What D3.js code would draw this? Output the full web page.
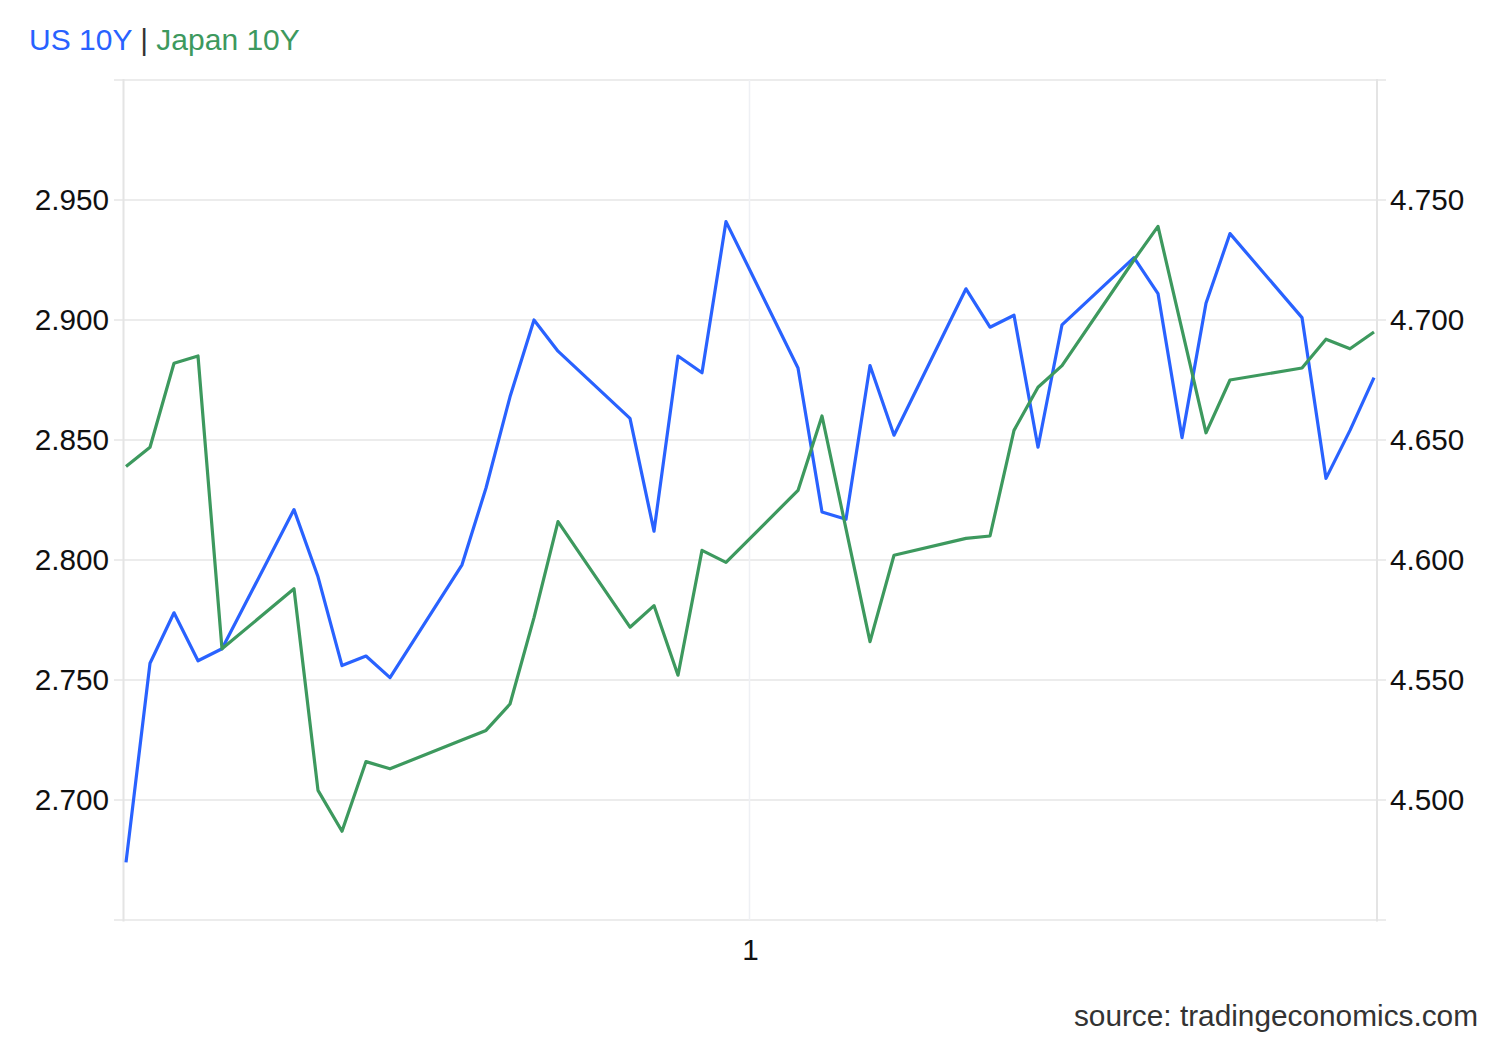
<!DOCTYPE html>
<html>
<head>
<meta charset="utf-8">
<script src="https://cdn.jsdelivr.net/npm/d3@7"></script>
<style>
  body { margin: 0; background: #fff; }
  svg { display: block; font-family: "Liberation Sans", Arial, sans-serif; }
</style>
</head>
<body>
<svg width="1500" height="1040"></svg>
<script>
// trading days (weekends skipped)
const dates = [
  "2025-02-03", "2025-02-04", "2025-02-05", "2025-02-06", "2025-02-07",
  "2025-02-10", "2025-02-11", "2025-02-12", "2025-02-13", "2025-02-14",
  "2025-02-17", "2025-02-18", "2025-02-19", "2025-02-20", "2025-02-21",
  "2025-02-24", "2025-02-25", "2025-02-26", "2025-02-27", "2025-02-28",
  "2025-03-03", "2025-03-04", "2025-03-05", "2025-03-06", "2025-03-07",
  "2025-03-10", "2025-03-11", "2025-03-12", "2025-03-13", "2025-03-14",
  "2025-03-17", "2025-03-18", "2025-03-19", "2025-03-20", "2025-03-21",
  "2025-03-24", "2025-03-25", "2025-03-26", "2025-03-27"
];

// right axis
const us10y = [
  4.474, 4.557, 4.578, 4.558, 4.563,
  4.621, 4.593, 4.556, 4.560, 4.551,
  4.598, 4.630, 4.668, 4.700, 4.687,
  4.659, 4.612, 4.685, 4.678, 4.741,
  4.680, 4.620, 4.617, 4.681, 4.652,
  4.713, 4.697, 4.702, 4.647, 4.698,
  4.726, 4.711, 4.651, 4.707, 4.736,
  4.701, 4.634, 4.654, 4.676
];

// left axis
const japan10y = [
  2.839, 2.847, 2.882, 2.885, 2.763,
  2.788, 2.704, 2.687, 2.716, 2.713,
  2.725, 2.729, 2.740, 2.776, 2.816,
  2.772, 2.781, 2.752, 2.804, 2.799,
  2.829, 2.860, 2.813, 2.766, 2.802,
  2.809, 2.810, 2.854, 2.872, 2.881,
  2.925, 2.939, 2.896, 2.853, 2.875,
  2.880, 2.892, 2.888, 2.895
];

const leftTicks = [2.70, 2.75, 2.80, 2.85, 2.90, 2.95];
const rightTicks = [4.50, 4.55, 4.60, 4.65, 4.70, 4.75];
const xTicks = ["2025-03-01"];

const parse = d3.utcParse("%Y-%m-%d");
const days = dates.map(parse);

const svg = d3.select("svg"),
      plotLeft = 123, plotRight = 1377, plotTop = 80, plotBottom = 920;

const pad = 3 * 3600 * 1000;
const x = d3.scaleUtc()
    .domain([+days[0] - pad, +days[days.length - 1] + pad])
    .range([plotLeft, plotRight]);
const yL = d3.scaleLinear().domain([2.65, 3.00]).range([plotBottom, plotTop]);
const yR = d3.scaleLinear().domain([4.45, 4.80]).range([plotBottom, plotTop]);

// horizontal grid, incl. top and bottom frame
svg.append("g")
  .selectAll("line")
  .data([2.65].concat(leftTicks, [3.00]))
  .join("line")
    .attr("x1", 114).attr("x2", 1386)
    .attr("y1", d => yL(d)).attr("y2", d => yL(d))
    .attr("stroke", "#e6e6e6")
    .attr("stroke-width", 1.5);

// vertical grid for the month tick
svg.append("g")
  .selectAll("line")
  .data(xTicks.map(parse))
  .join("line")
    .attr("x1", d => x(d) - 0.5).attr("x2", d => x(d) - 0.5)
    .attr("y1", plotTop).attr("y2", plotBottom)
    .attr("stroke", "#eef0f4")
    .attr("stroke-width", 1.5);

// side axis lines
svg.append("g")
  .selectAll("line")
  .data([plotLeft + 0.5, plotRight])
  .join("line")
    .attr("x1", d => d).attr("x2", d => d)
    .attr("y1", plotTop - 1).attr("y2", plotBottom + 1.5)
    .attr("stroke", "#e4e4e4")
    .attr("stroke-width", 2);

const fmt = d3.format(".3f");

const gL = svg.append("g")
    .attr("transform", `translate(${plotLeft},0)`)
    .call(d3.axisLeft(yL).tickValues(leftTicks).tickFormat(fmt).tickSize(0).tickPadding(14));
const gR = svg.append("g")
    .attr("transform", `translate(${plotRight},0)`)
    .call(d3.axisRight(yR).tickValues(rightTicks).tickFormat(fmt).tickSize(0).tickPadding(13));
const gX = svg.append("g")
    .attr("transform", `translate(0,${plotBottom})`)
    .call(d3.axisBottom(x).tickValues(xTicks.map(parse)).tickFormat(d3.utcFormat("%-d")).tickSize(0).tickPadding(19));

[gL, gR, gX].forEach(g => {
  g.select(".domain").remove();
  g.selectAll("text")
    .attr("fill", "#111")
    .style("font-size", "29.7px")
    .style("font-family", "'Liberation Sans', Arial, sans-serif");
});

const lineUS = d3.line()
    .x((d, i) => x(days[i]))
    .y(d => yR(d));
const lineJP = d3.line()
    .x((d, i) => x(days[i]))
    .y(d => yL(d));

svg.append("path")
    .datum(us10y)
    .attr("fill", "none")
    .attr("stroke", "#2962ff")
    .attr("stroke-width", 3.2)
    .attr("stroke-linejoin", "round")
    .attr("d", lineUS);

svg.append("path")
    .datum(japan10y)
    .attr("fill", "none")
    .attr("stroke", "#3d995e")
    .attr("stroke-width", 3.2)
    .attr("stroke-linejoin", "round")
    .attr("d", lineJP);

// legend
const legend = svg.append("text")
    .attr("x", 29)
    .attr("y", 50)
    .style("font-size", "30px");
legend.append("tspan").attr("fill", "#2962ff").text("US 10Y");
legend.append("tspan").attr("fill", "#333").text(" | ");
legend.append("tspan").attr("fill", "#3d995e").text("Japan 10Y");

svg.append("text")
    .attr("x", 1478)
    .attr("y", 1026)
    .attr("text-anchor", "end")
    .attr("fill", "#333")
    .style("font-size", "29.8px")
    .text("source: tradingeconomics.com");
</script>
</body>
</html>
